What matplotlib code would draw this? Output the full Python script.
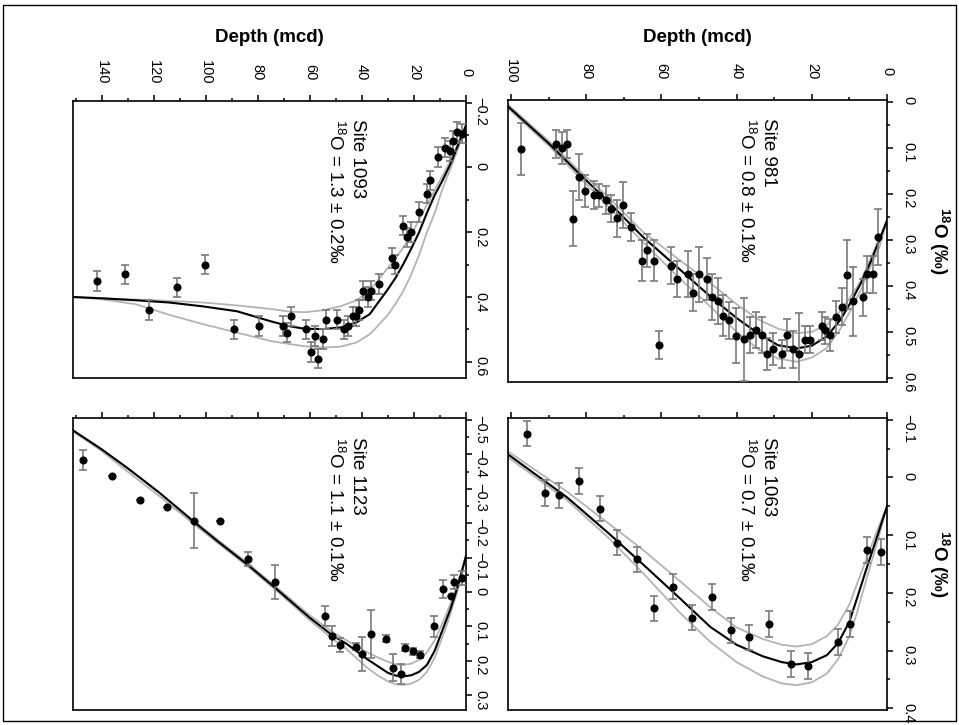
import matplotlib
matplotlib.use('Agg')
import matplotlib.pyplot as plt
from matplotlib.patches import Rectangle
from matplotlib.ticker import MultipleLocator, FuncFormatter

plt.rcParams['font.family'] = ['Liberation Sans', 'DejaVu Sans']
plt.rcParams['mathtext.fontset'] = 'custom'
plt.rcParams['mathtext.rm'] = 'Liberation Sans'
plt.rcParams['mathtext.it'] = 'Liberation Sans:italic'
plt.rcParams['mathtext.bf'] = 'Liberation Sans:bold'

# ---- Site 1093 ----
d1093 = [1.7, 3.6, 4.9, 6.2, 8.1, 10.6, 13.8, 15.1, 17.9, 21.3, 22.6, 24.1, 27.3, 28.6,
         33.5, 36.5, 37.8, 39.5, 41.0, 42.3, 43.6, 45.3, 46.9, 49.7, 53.6, 55.1, 56.8,
         58.1, 59.7, 61.3, 67.4, 68.7, 70.3, 79.7, 89.2, 100.4, 111.0, 121.8, 131.2, 141.7]
o1093 = [-0.104, -0.11, -0.081, -0.05, -0.061, -0.032, 0.04, 0.081, 0.138, 0.2, 0.216, 0.18,
         0.30, 0.28, 0.36, 0.38, 0.40, 0.38, 0.44, 0.46, 0.46, 0.49, 0.50, 0.47, 0.47, 0.53,
         0.59, 0.52, 0.57, 0.50, 0.46, 0.51, 0.49, 0.49, 0.50, 0.30, 0.37, 0.44, 0.33, 0.35]
e1093 = [0.03] * len(d1093)
fd1093 = [0, 3, 6, 9, 12, 15, 18, 21, 24, 27, 30, 34, 37, 42, 48, 55, 62, 68, 75, 88, 101,
          114, 127, 140, 151]
fit1093 = [-0.13, -0.07, -0.01, 0.04, 0.085, 0.14, 0.2, 0.25, 0.297, 0.34, 0.376, 0.42, 0.453,
           0.478, 0.494, 0.499, 0.498, 0.49, 0.475, 0.444, 0.429, 0.417, 0.41, 0.404, 0.40]
hi1093 = [-0.13, -0.075, -0.02, 0.025, 0.07, 0.115, 0.16, 0.21, 0.246, 0.28, 0.31, 0.35, 0.38,
          0.41, 0.428, 0.441, 0.447, 0.445, 0.437, 0.426, 0.417, 0.412, 0.408, 0.404, 0.40]
lo1093 = [-0.13, -0.06, 0.005, 0.065, 0.14, 0.2, 0.27, 0.33, 0.38, 0.42, 0.455, 0.49, 0.515,
          0.54, 0.553, 0.556, 0.552, 0.545, 0.536, 0.51, 0.484, 0.455, 0.422, 0.407, 0.40]

# ---- Site 981 ----
d981 = [97.4, 88.0, 86.5, 85.0, 81.9, 83.6, 80.4, 77.9, 76.5, 74.8, 73.5, 71.9, 70.3, 68.2,
        65.1, 63.7, 62.1, 60.6, 57.4, 55.9, 53.0, 51.7, 50.0, 48.0, 46.5, 44.9, 43.5, 41.9,
        40.2, 38.0, 36.4, 34.8, 33.3, 31.8, 30.2, 28.0, 26.5, 24.9, 23.4, 21.9, 20.5, 17.4,
        16.5, 15.2, 13.6, 12.0, 10.6, 9.1, 6.3, 5.4, 3.8, 2.3]
o981 = [0.103, 0.091, 0.101, 0.091, 0.164, 0.254, 0.193, 0.203, 0.203, 0.213, 0.232, 0.253,
        0.224, 0.272, 0.345, 0.323, 0.345, 0.528, 0.356, 0.385, 0.375, 0.415, 0.375, 0.385,
        0.425, 0.434, 0.465, 0.475, 0.508, 0.516, 0.507, 0.496, 0.507, 0.548, 0.538, 0.548,
        0.507, 0.538, 0.548, 0.517, 0.517, 0.487, 0.497, 0.507, 0.467, 0.445, 0.376, 0.434,
        0.425, 0.375, 0.375, 0.294]
e981 = [0.057, 0.03, 0.035, 0.03, 0.05, 0.06, 0.035, 0.03, 0.025, 0.03, 0.03, 0.04, 0.05,
        0.03, 0.045, 0.035, 0.045, 0.03, 0.04, 0.04, 0.05, 0.04, 0.06, 0.045, 0.05, 0.05,
        0.045, 0.04, 0.06, 0.09, 0.04, 0.04, 0.04, 0.035, 0.035, 0.03, 0.035, 0.04, 0.09,
        0.03, 0.03, 0.03, 0.03, 0.035, 0.035, 0.04, 0.075, 0.075, 0.04, 0.04, 0.04, 0.06]
fd981 = [0, 2, 4.5, 7, 9.8, 12.5, 16, 20, 24, 29, 34, 40, 47, 55, 65, 75, 82.5, 90, 100.8]
fit981 = [0.258, 0.30, 0.351, 0.395, 0.438, 0.475, 0.51, 0.53, 0.536, 0.529, 0.505, 0.47,
          0.423, 0.365, 0.293, 0.21, 0.151, 0.09, 0.01]
hi981 = [0.258, 0.295, 0.343, 0.39, 0.425, 0.455, 0.485, 0.50, 0.503, 0.493, 0.474, 0.44,
         0.394, 0.345, 0.282, 0.20, 0.145, 0.085, 0.006]
lo981 = [0.26, 0.315, 0.36, 0.41, 0.455, 0.495, 0.535, 0.556, 0.565, 0.558, 0.539, 0.50,
         0.445, 0.385, 0.304, 0.22, 0.158, 0.095, 0.014]

# ---- Site 1123 ----
d1123 = [147.2, 135.9, 125.4, 114.9, 104.6, 94.6, 83.6, 73.5, 54.2, 51.3, 48.5, 42.4, 40.1,
         36.4, 30.9, 27.9, 24.9, 23.3, 20.3, 17.6, 12.2, 9.0, 5.9, 4.5, 1.4]
o1123 = [-0.384, -0.338, -0.267, -0.248, -0.207, -0.207, -0.097, -0.030, 0.070, 0.128, 0.155,
         0.159, 0.181, 0.121, 0.136, 0.220, 0.238, 0.162, 0.172, 0.182, 0.100, -0.009, 0.011,
         -0.030, -0.040]
e1123 = [0.03, 0, 0, 0, 0.08, 0, 0.02, 0.05, 0.03, 0.03, 0.02, 0.01, 0.05, 0.07, 0.01, 0.04,
         0.03, 0.01, 0.01, 0.01, 0.03, 0.025, 0, 0.02, 0.02]
fd1123 = [0, 3, 6, 9, 12, 15, 18, 21, 24, 27, 30, 34, 38, 42, 46, 51, 60, 73, 84, 95, 105,
          118, 130, 140, 151]
fit1123 = [-0.105, -0.02, 0.05, 0.11, 0.17, 0.212, 0.232, 0.242, 0.245, 0.243, 0.235, 0.215,
           0.195, 0.172, 0.15, 0.128, 0.075, -0.01, -0.08, -0.145, -0.207, -0.29, -0.36,
           -0.415, -0.47]
hi1123 = [-0.105, -0.03, 0.035, 0.09, 0.14, 0.175, 0.197, 0.208, 0.212, 0.21, 0.203, 0.19,
          0.175, 0.158, 0.14, 0.118, 0.068, -0.015, -0.085, -0.15, -0.21, -0.29, -0.36,
          -0.415, -0.47]
lo1123 = [-0.105, -0.01, 0.065, 0.13, 0.19, 0.232, 0.255, 0.266, 0.27, 0.268, 0.26, 0.242,
          0.22, 0.193, 0.165, 0.138, 0.082, -0.005, -0.075, -0.14, -0.2, -0.28, -0.35,
          -0.41, -0.467]

# ---- Site 1063 ----
d1063 = [95.8, 91.0, 87.2, 81.8, 76.3, 71.7, 66.6, 62.0, 56.8, 51.9, 46.5, 41.5, 36.6, 31.4,
         25.5, 20.9, 13.0, 9.8, 5.2, 1.7]
o1063 = [-0.076, 0.027, 0.031, 0.006, 0.054, 0.113, 0.142, 0.227, 0.189, 0.243, 0.207, 0.265,
         0.277, 0.254, 0.323, 0.327, 0.285, 0.254, 0.126, 0.129]
e1063 = [0.022] * len(d1063)
fd1063 = [0, 2.5, 5.4, 8, 10, 13, 16, 20, 24, 28, 33, 40, 47, 55, 65, 74, 85, 100.8]
fit1063 = [0.05, 0.10, 0.157, 0.21, 0.25, 0.287, 0.308, 0.32, 0.324, 0.32, 0.31, 0.29, 0.259,
           0.21, 0.15, 0.097, 0.035, -0.04]
hi1063 = [0.05, 0.09, 0.14, 0.185, 0.22, 0.255, 0.275, 0.289, 0.293, 0.29, 0.28, 0.26, 0.225,
          0.18, 0.125, 0.08, 0.025, -0.045]
lo1063 = [0.05, 0.11, 0.175, 0.235, 0.275, 0.315, 0.34, 0.355, 0.36, 0.357, 0.345, 0.32,
          0.285, 0.235, 0.165, 0.105, 0.04, -0.035]

sites = [
    # name, label, depth, d18O, err, fit depth, fit, upper, lower, rect (px), xlim, ylim, ystep, top row, left col
    ('Site 1093', '1.3 ± 0.2', d1093, o1093, e1093, fd1093, fit1093, hi1093, lo1093,
     (73, 101, 466, 378), 151, (-0.205, 0.65), 0.2, True, True),
    ('Site 981', '0.8 ± 0.1', d981, o981, e981, fd981, fit981, hi981, lo981,
     (508, 100, 887, 382), 100.8, (-0.004, 0.609), 0.1, True, False),
    ('Site 1123', '1.1 ± 0.1', d1123, o1123, e1123, fd1123, fit1123, hi1123, lo1123,
     (73, 418, 466, 710), 151, (-0.506, 0.343), 0.1, False, True),
    ('Site 1063', '0.7 ± 0.1', d1063, o1063, e1063, fd1063, fit1063, hi1063, lo1063,
     (508, 418, 887, 710), 100.8, (-0.103, 0.403), 0.1, False, False),
]

W, H = 959, 725
fig = plt.figure(figsize=(W / 100, H / 100), dpi=100)
fig.patches.append(Rectangle((3 / W, 1 - 721 / H), 953 / W, 716 / H, transform=fig.transFigure,
                             fill=False, edgecolor='black', linewidth=1.0))

fmt = FuncFormatter(lambda v, p: ('%g' % round(v, 3)).replace('-', '\u2212'))

for (name, val, dep, o18, err, fd, fit, hi, lo, (x0, y0, x1, y1), dmax, ylim, ystep,
     top, left) in sites:
    ax = fig.add_axes([x0 / W, 1 - y1 / H, (x1 - x0) / W, (y1 - y0) / H])
    ax.plot(fd, hi, color='#b4b4b4', lw=1.3, zorder=2)
    ax.plot(fd, lo, color='#b4b4b4', lw=1.3, zorder=2)
    ax.plot(fd, fit, color='black', lw=1.5, zorder=3)
    ax.errorbar(dep, o18, yerr=err, fmt='none', ecolor='#7a7a7a', elinewidth=1.2,
                capsize=3, capthick=1.2, zorder=4)
    ax.plot(dep, o18, 'o', color='black', ms=4.8, zorder=5)

    ax.set_xlim(dmax, 0)
    ax.set_ylim(ylim[1], ylim[0])
    ax.xaxis.tick_top()
    ax.yaxis.tick_right()
    ax.xaxis.set_major_locator(MultipleLocator(20))
    ax.xaxis.set_minor_locator(MultipleLocator(10))
    ax.yaxis.set_major_locator(MultipleLocator(ystep))
    ax.yaxis.set_minor_locator(MultipleLocator(ystep / 2))
    ax.yaxis.set_major_formatter(fmt)
    for s in ax.spines.values():
        s.set_linewidth(1.2)
    ax.tick_params(axis='x', which='both', top=True, bottom=False, labeltop=top,
                   labelbottom=False, direction='out', width=1.1, labelrotation=270,
                   labelsize=10.5, pad=17)
    ax.tick_params(axis='y', which='both', right=True, left=False, labelright=True,
                   labelleft=False, direction='out', width=1.1, labelrotation=270,
                   labelsize=10.5, pad=1.5 if left else 6.5)
    ax.tick_params(which='major', length=4)
    ax.tick_params(which='minor', length=2.5)
    for t in ax.get_xticklabels():
        t.set_va('center')

    # site name and offset, reading downwards
    xt = 0.745 if left else 0.71
    ax.text(xt, 0.935, name + '\n$^{18}$O = ' + val + '‰',
            transform=ax.transAxes, rotation=270, ha='right', va='top',
            multialignment='left', fontsize=13.5, linespacing=1.25)

    if top:
        fig.text((x0 + x1) / 2 / W, 1 - 38 / H, 'Depth (mcd)', ha='center', va='center',
                 fontsize=13.5, fontweight='bold')
    if not left:
        fig.text(939 / W, 1 - (y0 + y1) / 2 / H, r'$^{\mathbf{18}}$O (‰)', rotation=270,
                 ha='center', va='center', fontsize=13.5, fontweight='bold')

fig.savefig('out.png', dpi=100)
